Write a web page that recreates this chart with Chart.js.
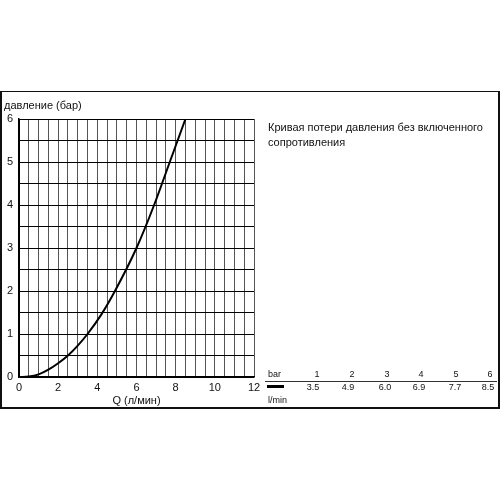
<!DOCTYPE html>
<html>
<head>
<meta charset="utf-8">
<script src="https://cdn.jsdelivr.net/npm/chart.js@4.4.0/dist/chart.umd.min.js"></script>
<style>
html,body{margin:0;padding:0;background:#fff;}
#wrap{position:relative;width:500px;height:500px;}
</style>
</head>
<body>
<div id="wrap"><canvas id="c" width="500" height="500"></canvas></div>
<script>
// Curve: flow Q (l/min) vs pressure loss (bar)
const flowQ =    [0, 0.5, 1.0, 1.5, 2.0, 2.5, 3.0, 3.5, 4.2, 4.9, 6.0, 6.9, 7.7, 8.5];
const pressure = [0, 0.01, 0.06, 0.17, 0.32, 0.5, 0.73, 1.0, 1.45, 2.0, 3.0, 4.0, 5.0, 6.0];

// Table on the right
const tableBar = ['1', '2', '3', '4', '5', '6'];
const tableLmin = ['3.5', '4.9', '6.0', '6.9', '7.7', '8.5'];

const yTitle = 'давление (бар)';
const xTitle = 'Q (л/мин)';
const noteLines = ['Кривая потери давления без включенного', 'сопротивления'];

const FONT = "'Liberation Sans', Arial, sans-serif";

const decor = {
  id: 'decor',
  afterDraw(chart) {
    const ctx = chart.ctx;
    ctx.save();
    // frame
    ctx.fillStyle = '#111';
    ctx.fillRect(0, 91, 500, 1);
    ctx.fillRect(0, 407, 500, 2);
    ctx.fillRect(0, 91, 2, 318);
    ctx.fillRect(498, 91, 2, 318);

    // y title
    ctx.fillStyle = '#111';
    ctx.font = '11px ' + FONT;
    ctx.textBaseline = 'middle';
    ctx.textAlign = 'left';
    ctx.fillText(yTitle, 4, 106);

    // note
    ctx.font = '11px ' + FONT;
    noteLines.forEach((t, i) => ctx.fillText(t, 268, 128 + i * 15));

    // table
    ctx.font = '9px ' + FONT;
    ctx.fillText('bar', 268, 375);
    ctx.fillText('l/min', 268, 401);
    const barX = [317, 352, 387, 421, 456, 490];
    const lX = [313, 348, 385, 419, 455, 488];
    ctx.textAlign = 'center';
    tableBar.forEach((t, i) => ctx.fillText(t, barX[i], 375));
    tableLmin.forEach((t, i) => ctx.fillText(t, lX[i], 388));
    ctx.fillStyle = '#333';
    ctx.fillRect(265, 381, 232, 1);
    ctx.fillStyle = '#000';
    ctx.fillRect(267, 385, 17, 3);
    ctx.restore();
  }
};

new Chart(document.getElementById('c'), {
  type: 'scatter',
  data: {
    datasets: [{
      data: flowQ.map((q, i) => ({x: q, y: pressure[i]})),
      showLine: true,
      borderColor: '#000',
      borderWidth: 2,
      pointRadius: 0,
      cubicInterpolationMode: 'monotone',
      fill: false
    }]
  },
  options: {
    responsive: false,
    animation: false,
    events: [],
    layout: { padding: { left: 0, right: 246, top: 119, bottom: 88 } },
    plugins: { legend: { display: false }, tooltip: { enabled: false } },
    scales: {
      x: {
        type: 'linear', min: 0, max: 12,
        afterFit(s) { s.height = 35; },
        grid: {
          color: ctx => (ctx.tick && ctx.tick.value === 0) ? '#000' : '#555',
          lineWidth: 1, drawTicks: false
        },
        border: { color: '#000', width: 1.5 },
        ticks: {
          stepSize: 0.5, autoSkip: false, maxRotation: 0, padding: 4,
          color: '#111', font: { family: FONT, size: 11 },
          callback: v => (v % 2 === 0 ? String(v) : '')
        },
        title: { display: true, text: xTitle, color: '#111', font: { family: FONT, size: 11 }, padding: { top: 0, bottom: 4 } }
      },
      y: {
        type: 'linear', min: 0, max: 6,
        afterFit(s) { s.width = 19; },
        grid: { color: '#000', lineWidth: 1, drawTicks: false },
        border: { color: '#000', width: 1.5 },
        ticks: {
          stepSize: 0.5, autoSkip: false, padding: 6,
          color: '#111', font: { family: FONT, size: 11 },
          callback: v => (v % 1 === 0 ? String(v) : '')
        }
      }
    }
  },
  plugins: [decor]
});
</script>
</body>
</html>
